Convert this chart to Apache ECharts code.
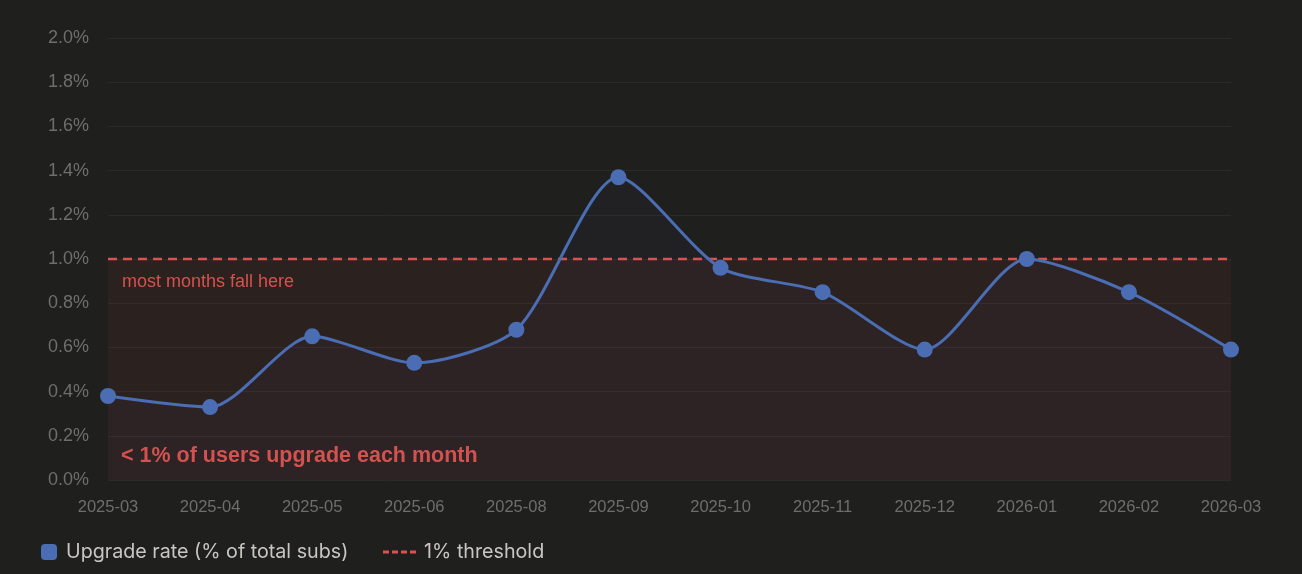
<!DOCTYPE html>
<html><head><meta charset="utf-8">
<script src="https://cdn.jsdelivr.net/npm/echarts@6/dist/echarts.min.js"></script>
<style>html,body{margin:0;padding:0;background:#1f1f1e;}#c{width:1302px;height:574px;}</style>
</head><body><div id="c"></div>
<script>
const categories = ['2025-03','2025-04','2025-05','2025-06','2025-08','2025-09','2025-10','2025-11','2025-12','2026-01','2026-02','2026-03'];
const upgradeRate = [0.38,0.33,0.65,0.53,0.68,1.37,0.96,0.85,0.59,1.00,0.85,0.59];
const thresholdValue = 1.0;
const thresholdLine = categories.map(() => thresholdValue);
const yTicks = { min: 0, max: 2.0, interval: 0.2 };

const RED = '#d9534f';
const BLUE = '#4a6db3';
const chart = echarts.init(document.getElementById('c'));
chart.setOption({
  backgroundColor: '#1f1f1e',
  animation: false,
  grid: { left: 108, right: 71, top: 38, bottom: 94 },
  xAxis: {
    type: 'category', data: categories, boundaryGap: false,
    axisLine: { show: false }, axisTick: { show: false },
    axisLabel: { color: '#6e6e6e', fontSize: 16.5, fontFamily: 'Liberation Sans', margin: 19 }
  },
  yAxis: {
    type: 'value', min: yTicks.min, max: yTicks.max, interval: yTicks.interval,
    axisLabel: { color: '#6e6e6e', fontSize: 18, fontFamily: 'Liberation Sans', margin: 19,
      formatter: v => v.toFixed(1) + '%' },
    splitLine: { lineStyle: { color: '#2a2a2a', width: 1 } },
    axisLine: { show: false }, axisTick: { show: false }
  },
  legend: [
    {
      left: 36, top: 537, itemWidth: 16, itemHeight: 16,
      textStyle: { color: '#c9c6c1', fontSize: 19.7, fontFamily: 'Inter', padding: [0, 0, 0, 4] },
      data: [{ name: 'Upgrade rate (% of total subs)', icon: 'roundRect', itemStyle: { color: BLUE } }]
    },
    {
      left: 378, top: 537, itemWidth: 33, itemHeight: 3, symbolKeepAspect: false,
      textStyle: { color: '#c9c6c1', fontSize: 19.7, fontFamily: 'Inter', padding: [0, 0, 0, 3] },
      data: [{ name: '1% threshold',
        icon: 'path://M0,0h6v3h-6z M9,0h6v3h-6z M18,0h6v3h-6z M27,0h6v3h-6z',
        itemStyle: { color: RED } }]
    }
  ],
  series: [
    {
      name: '1% threshold', type: 'line', data: thresholdLine, symbol: 'none',
      lineStyle: { color: RED, width: 2.5, type: [9, 6] },
      itemStyle: { color: RED },
      z: 3,
      markArea: {
        silent: true,
        itemStyle: { color: 'rgba(190,60,50,0.08)' },
        data: [[{ yAxis: 0 }, { yAxis: thresholdValue }]]
      }
    },
    {
      name: 'Upgrade rate (% of total subs)', type: 'line', data: upgradeRate, smooth: 0.25,
      symbol: 'circle', symbolSize: 16,
      lineStyle: { color: BLUE, width: 3 },
      itemStyle: { color: BLUE },
      areaStyle: { color: 'rgba(100,120,200,0.05)' },
      z: 4
    }
  ],
  graphic: [
    {
      type: 'text', x: 122, y: 282,
      style: { text: 'most months fall here', fill: RED, fontSize: 18,
        fontFamily: 'Liberation Sans', verticalAlign: 'middle', textVerticalAlign: 'middle' }
    },
    {
      type: 'text', x: 121, y: 456,
      style: { text: '< 1% of users upgrade each month', fill: RED, fontSize: 21.5,
        fontWeight: 'bold', fontFamily: 'Liberation Sans', verticalAlign: 'middle', textVerticalAlign: 'middle' }
    }
  ]
});
</script></body></html>
